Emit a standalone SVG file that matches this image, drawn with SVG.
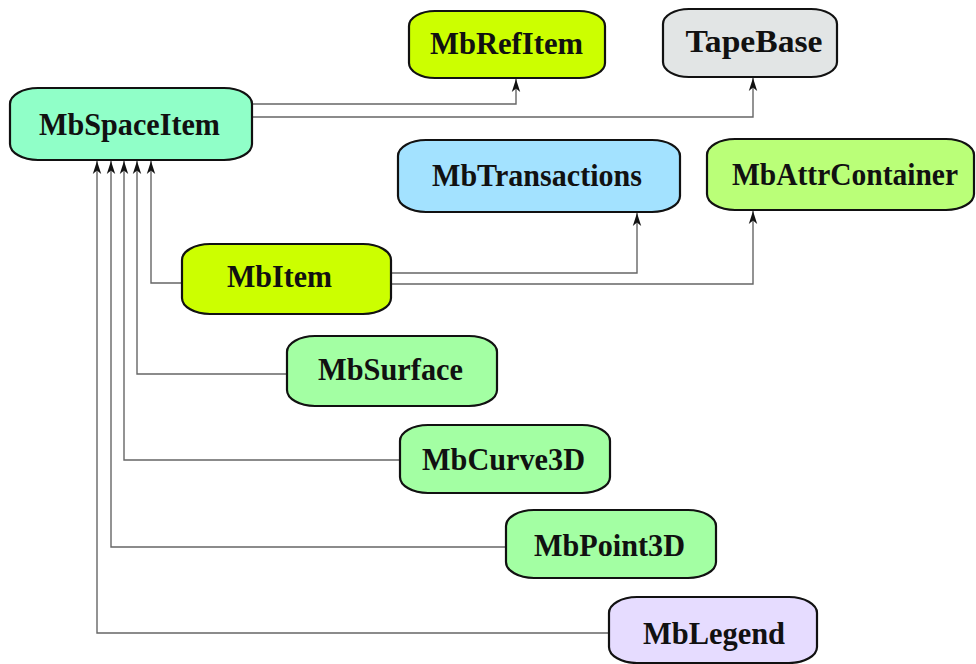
<svg xmlns="http://www.w3.org/2000/svg" width="976" height="664" viewBox="0 0 976 664">
<defs>
<marker id="arr" markerUnits="userSpaceOnUse" markerWidth="14" markerHeight="10" refX="13" refY="5" orient="auto">
<path d="M0,0.8 L13,5 L0,9.2 L3.5,5 z" fill="#111"/>
</marker>
<style>
.box{stroke:#111;stroke-width:2.2}
.lbl{font-family:"Liberation Serif","Times New Roman",serif;font-weight:bold;font-size:32px;fill:#111;text-anchor:middle}
.c{fill:none;stroke:#666;stroke-width:1.4}
.a{marker-end:url(#arr)}
</style>
</defs>
<rect width="976" height="664" fill="#fff"/>
<g id="connectors">
<path class="c a" d="M252,104 H516 V79"/>
<path class="c a" d="M252,117 H753 V78"/>
<path class="c a" d="M391,273 H637 V213"/>
<path class="c a" d="M391,284 H753 V211"/>
<path class="c a" d="M182,283 H151 V161"/>
<path class="c a" d="M287,374 H137 V161"/>
<path class="c a" d="M400,460 H124 V161"/>
<path class="c a" d="M506,547 H111 V161"/>
<path class="c a" d="M609,633 H97 V161"/>
</g>
<g id="MbSpaceItem"><rect class="box" x="10" y="88" width="242" height="72" rx="28" ry="16" fill="#90ffc8"/><text class="lbl" x="129.5" y="135" textLength="181" lengthAdjust="spacingAndGlyphs">MbSpaceItem</text></g>
<g id="MbRefItem"><rect class="box" x="409" y="11" width="196" height="67" rx="26" ry="15" fill="#ccff00"/><text class="lbl" x="506.5" y="54" textLength="153" lengthAdjust="spacingAndGlyphs">MbRefItem</text></g>
<g id="TapeBase"><rect class="box" x="663" y="9" width="174" height="68" rx="26" ry="15" fill="#e2e5e5"/><text class="lbl" x="754" y="52" textLength="137" lengthAdjust="spacingAndGlyphs">TapeBase</text></g>
<g id="MbTransactions"><rect class="box" x="398" y="140" width="282" height="72" rx="28" ry="16" fill="#a3e2ff"/><text class="lbl" x="537" y="186" textLength="210" lengthAdjust="spacingAndGlyphs">MbTransactions</text></g>
<g id="MbAttrContainer"><rect class="box" x="707" y="139" width="267" height="71" rx="28" ry="16" fill="#baff78"/><text class="lbl" x="845" y="185" textLength="226" lengthAdjust="spacingAndGlyphs">MbAttrContainer</text></g>
<g id="MbItem"><rect class="box" x="182" y="244" width="209" height="70" rx="28" ry="16" fill="#ccff00"/><text class="lbl" x="279.5" y="287" textLength="105" lengthAdjust="spacingAndGlyphs">MbItem</text></g>
<g id="MbSurface"><rect class="box" x="287" y="336" width="210" height="70" rx="28" ry="16" fill="#a3ffa3"/><text class="lbl" x="390.5" y="380" textLength="145" lengthAdjust="spacingAndGlyphs">MbSurface</text></g>
<g id="MbCurve3D"><rect class="box" x="400" y="425" width="210" height="68" rx="28" ry="16" fill="#a3ffa3"/><text class="lbl" x="503.5" y="470" textLength="163" lengthAdjust="spacingAndGlyphs">MbCurve3D</text></g>
<g id="MbPoint3D"><rect class="box" x="506" y="510" width="210" height="68" rx="28" ry="16" fill="#a3ffa3"/><text class="lbl" x="609.5" y="556" textLength="151" lengthAdjust="spacingAndGlyphs">MbPoint3D</text></g>
<g id="MbLegend"><rect class="box" x="609" y="597" width="208" height="66" rx="28" ry="16" fill="#e6dcff"/><text class="lbl" x="714" y="644" textLength="142" lengthAdjust="spacingAndGlyphs">MbLegend</text></g>
</svg>
